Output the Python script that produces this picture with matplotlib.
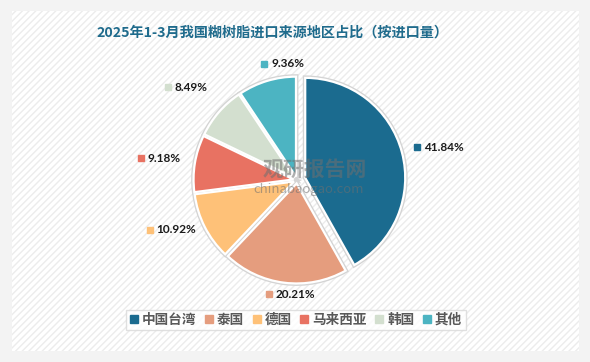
import numpy as np
import matplotlib.pyplot as plt
from matplotlib.patches import Rectangle

plt.rcParams['font.family'] = ['Noto Sans CJK SC', 'DejaVu Sans']

regions = ['中国台湾', '泰国', '德国', '马来西亚', '韩国', '其他']
shares = [41.84, 20.21, 10.92, 9.18, 8.49, 9.36]
colors = ['#1b6b8f', '#e59d7e', '#fec178', '#e87262', '#d3dfcf', '#4cb4c2']
explode = [0.085, 0.035, 0.035, 0.035, 0.035, 0.035]   # fraction of radius

W, H = 590, 362
fig = plt.figure(figsize=(W / 100, H / 100), dpi=100, facecolor='#f3f3f3')
ax = fig.add_axes([0, 0, 1, 1])
ax.axis('off')

# panel with light diagonal hatch
ax.add_patch(Rectangle((12, 11), 567, 340, facecolor='white', edgecolor='#ececec',
                       hatch='/////', linewidth=0, zorder=0))

cx, cy, r = 297, H - 180, 100
expl = [e * r for e in explode]
# grey outline underneath, white edges on top
sh, _ = ax.pie(shares, colors=colors, startangle=90, counterclock=False,
               center=(cx, cy), radius=r, explode=expl,
               wedgeprops=dict(edgecolor='#d4d4d4', linewidth=3.5))
wedges, _ = ax.pie(shares, colors=colors, startangle=90, counterclock=False,
                   center=(cx, cy), radius=r, explode=expl,
                   wedgeprops=dict(edgecolor='white', linewidth=1.6))
for w in sh:
    w.set_zorder(1)
for w in wedges:
    w.set_zorder(2)
ax.set_xlim(0, W)
ax.set_ylim(0, H)
ax.set_aspect('equal')

# watermark
ax.text(315, H - 169, '观研报告网', fontsize=15, fontweight='bold', color='#6f6f6f',
        alpha=0.55, ha='center', va='center', zorder=3)
ax.text(309, H - 189, 'chinabaogao.com', fontsize=9.5, color='#6f6f6f',
        alpha=0.55, ha='center', va='center', zorder=3)

# data labels: radial distance (x radius) plus small pixel nudge
dist = [1.48, 1.15, 1.34, 1.35, 1.41, 1.16]
nudge_x = [0, 9, -5, 0, 0, 24]
nudge_y = [-5, 0, 11, 0, 0, 5]
cum = np.cumsum([0] + shares[:-1])
for i, v in enumerate(shares):
    mid = np.deg2rad((cum[i] + v / 2) / sum(shares) * 360)
    lx = cx + dist[i] * r * np.sin(mid) + nudge_x[i]
    ly = cy + dist[i] * r * np.cos(mid) + nudge_y[i]
    ax.plot(lx - 23, ly, marker='s', markersize=4, color=colors[i], zorder=4)
    ax.text(lx - 16, ly, f'{v:.2f}%', fontsize=8.5, fontweight='bold', color='#1a1a1a',
            ha='left', va='center', zorder=4, family='Lato')

ax.text(272, H - 33, '2025年1-3月我国糊树脂进口来源地区占比（按进口量）', fontsize=10.2,
        fontweight='bold', color='#1f6b8c', ha='center', va='center')

handles = [plt.Line2D([], [], marker='s', linestyle='', markersize=6, color=c) for c in colors]
leg = ax.legend(handles, regions, loc='center', bbox_to_anchor=(296 / W, 1 - 320 / H),
                ncol=6, frameon=True, fontsize=9.8, handlelength=0.6, handletextpad=0.3,
                columnspacing=0.6, borderpad=0.25, fancybox=False)
leg.get_frame().set_edgecolor('#d9d9d9')
leg.get_frame().set_facecolor('white')
for t in leg.get_texts():
    t.set_color('#595959')
    t.set_fontweight('bold')

fig.savefig('out.png', dpi=100, facecolor=fig.get_facecolor())
